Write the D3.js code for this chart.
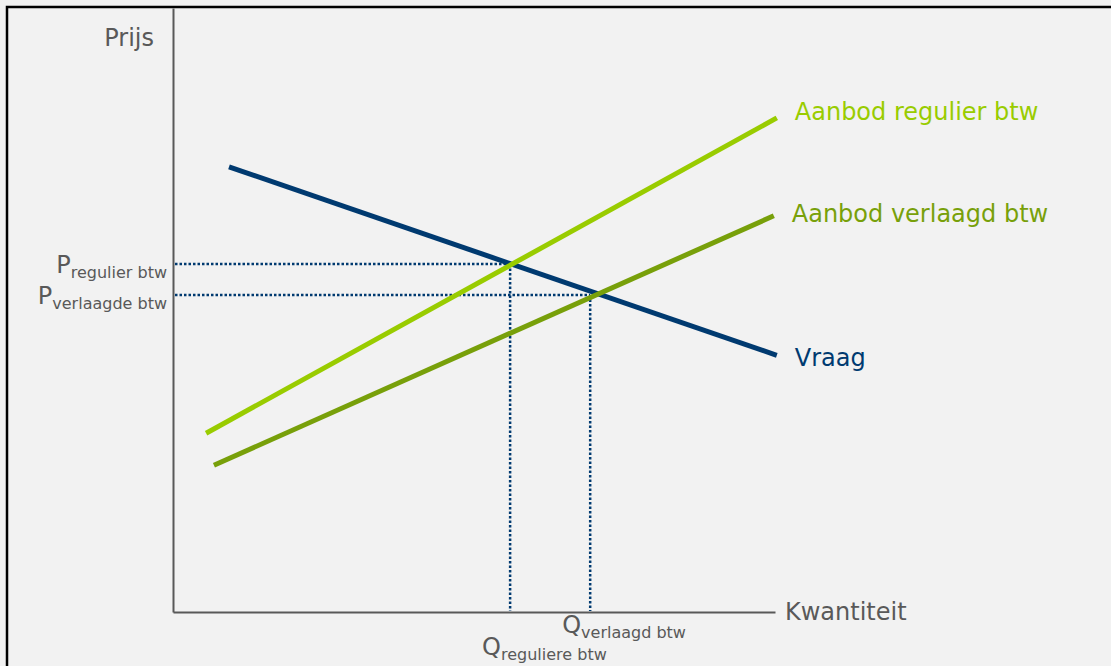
<!DOCTYPE html>
<html>
<head>
<meta charset="utf-8">
<script src="https://cdn.jsdelivr.net/npm/d3@7"></script>
<style>
  html, body { margin: 0; padding: 0; background: #fff; overflow: hidden; }
  svg { display: block; font-family: 'DejaVu Sans', Verdana, sans-serif; }
</style>
</head>
<body>
<div id="chart"></div>
<script>
// curves: demand + two supply lines (quantity / price in chart units 0-100)
const curveNames = ['Vraag', 'Aanbod regulier btw', 'Aanbod verlaagd btw'];
const startQ = [9.3, 5.5, 6.8];
const startP = [73.7, 29.6, 24.3];
const endQ = [100.3, 100.3, 99.8];
const endP = [42.5, 81.8, 65.6];

// equilibria
const eqQ = [56.0, 69.3];
const eqP = [57.6, 52.5];
const priceSubs = ['regulier btw', 'verlaagde btw'];
const qtySubs = ['reguliere btw', 'verlaagd btw'];

const axisLabels = ['Prijs', 'Kwantiteit'];

const W = 1111, H = 666;
const colors = ['#003a70', '#99cc00', '#78a00a'];
const labelDy = [3, -6, -2];
const textGray = '#595959';

const svg = d3.select('#chart').append('svg')
  .attr('width', W)
  .attr('height', H);

svg.append('rect')
  .attr('x', 0).attr('y', 0)
  .attr('width', W).attr('height', H)
  .attr('fill', '#f2f2f2');

// frame, only top and left show inside the window
svg.append('rect')
  .attr('x', 7).attr('y', 7)
  .attr('width', W + 20).attr('height', H + 20)
  .attr('fill', 'none')
  .attr('stroke', '#000')
  .attr('stroke-width', 2.5);

const x = d3.scaleLinear().domain([0, 100]).range([173, 775]);
const y = d3.scaleLinear().domain([0, 100]).range([612, 8]);

// axes without ticks
svg.append('g')
  .attr('transform', `translate(${x(0)},0)`)
  .call(d3.axisLeft(y).tickValues([]).tickSizeOuter(0))
  .call(g => g.select('.domain').attr('stroke', textGray).attr('stroke-width', 2));

svg.append('g')
  .attr('transform', `translate(0,${y(0)})`)
  .call(d3.axisBottom(x).tickValues([]).tickSizeOuter(0))
  .call(g => g.select('.domain').attr('stroke', textGray).attr('stroke-width', 2));

// dotted guides
const dotted = svg.append('g')
  .attr('stroke', '#003a70')
  .attr('stroke-width', 2.5)
  .attr('stroke-dasharray', '2.5,2')
  .attr('fill', 'none');

eqQ.forEach((q, i) => {
  dotted.append('line')
    .attr('x1', x(0) + 2).attr('x2', x(q))
    .attr('y1', y(eqP[i])).attr('y2', y(eqP[i]));
  dotted.append('line')
    .attr('x1', x(q)).attr('x2', x(q))
    .attr('y1', y(eqP[i])).attr('y2', y(0) - 1);
});

// curves
curveNames.forEach((name, i) => {
  svg.append('line')
    .attr('x1', x(startQ[i])).attr('y1', y(startP[i]))
    .attr('x2', x(endQ[i])).attr('y2', y(endP[i]))
    .attr('stroke', colors[i])
    .attr('stroke-width', 5);

  svg.append('text')
    .attr('x', x(endQ[i]) + 18)
    .attr('y', y(endP[i]) + labelDy[i])
    .attr('dominant-baseline', 'central')
    .attr('fill', colors[i])
    .attr('font-size', 24)
    .text(name);
});

// axis titles
svg.append('text')
  .attr('x', x(0) - 19).attr('y', 46)
  .attr('text-anchor', 'end')
  .attr('fill', textGray)
  .attr('font-size', 24)
  .text(axisLabels[0]);

svg.append('text')
  .attr('x', x(100) + 10).attr('y', y(0) + 8)
  .attr('fill', textGray)
  .attr('font-size', 24)
  .text(axisLabels[1]);

// P labels
priceSubs.forEach((s, i) => {
  const t = svg.append('text')
    .attr('x', x(0) - 6)
    .attr('y', y(eqP[i]) + 9)
    .attr('text-anchor', 'end')
    .attr('fill', textGray)
    .attr('font-size', 24);
  t.append('tspan').text('P');
  t.append('tspan').attr('font-size', 16).attr('dy', 5).text(s);
});

// Q labels, staggered below the axis
const qOffset = [43, 21];
qtySubs.forEach((s, i) => {
  const t = svg.append('text')
    .attr('x', x(eqQ[i]) - 28)
    .attr('y', y(0) + qOffset[i])
    .attr('fill', textGray)
    .attr('font-size', 24);
  t.append('tspan').text('Q');
  t.append('tspan').attr('font-size', 16).attr('dy', 5).text(s);
});
</script>
</body>
</html>
